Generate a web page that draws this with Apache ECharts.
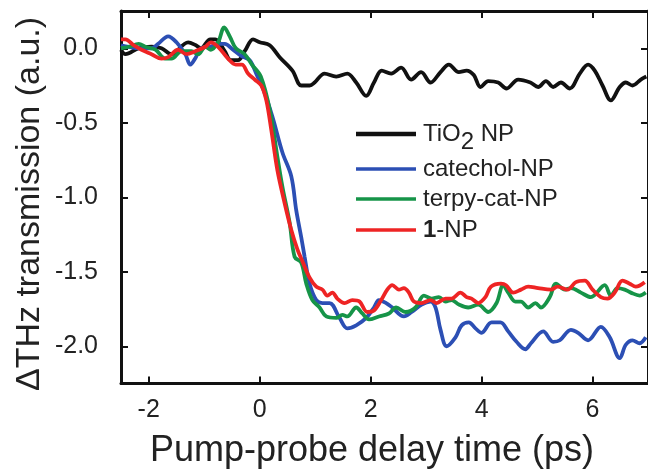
<!DOCTYPE html>
<html>
<head>
<meta charset="utf-8">
<script src="https://cdn.jsdelivr.net/npm/echarts@6/dist/echarts.min.js"></script>
<style>html,body{margin:0;padding:0;background:#fff}#c{width:648px;height:472px}</style>
</head>
<body>
<div id="c"></div>
<script>
var seriesNames = ['TiO2 NP', 'catechol-NP', 'terpy-cat-NP', '1-NP'];
var xTicks = [-2, 0, 2, 4, 6];
var yTicks = [0, -0.5, -1.0, -1.5, -2.0];

var tio2X = [-2.5,-2.42,-2.18,-1.95,-1.77,-1.59,-1.29,-1.15,-1.06,-0.89,-0.80,-0.63,-0.52,-0.39,-0.27,-0.12,0.0,0.18,0.36,0.59,0.75,0.90,0.99,1.17,1.38,1.58,1.74,1.92,2.06,2.20,2.37,2.55,2.73,2.91,3.08,3.26,3.41,3.59,3.73,3.86,3.98,4.12,4.30,4.45,4.66,4.88,5.02,5.16,5.29,5.43,5.59,5.77,5.92,6.04,6.18,6.33,6.49,6.60,6.72,6.87,6.97];
var tio2Y = [-0.01,-0.04,0.00,0.01,0.00,-0.04,0.04,0.02,0.00,0.06,0.06,-0.02,-0.08,-0.08,-0.02,0.06,0.04,0.02,-0.06,-0.15,-0.25,-0.25,-0.23,-0.17,-0.19,-0.17,-0.23,-0.32,-0.23,-0.15,-0.17,-0.13,-0.21,-0.16,-0.23,-0.16,-0.11,-0.16,-0.15,-0.18,-0.26,-0.22,-0.23,-0.27,-0.21,-0.23,-0.26,-0.22,-0.26,-0.23,-0.27,-0.17,-0.11,-0.15,-0.25,-0.35,-0.26,-0.23,-0.25,-0.21,-0.19];

var catX = [-2.5,-2.36,-2.18,-1.95,-1.83,-1.65,-1.50,-1.34,-1.25,-1.15,-1.06,-0.89,-0.75,-0.63,-0.48,-0.34,-0.18,-0.05,0.06,0.23,0.41,0.57,0.66,0.75,0.81,0.90,1.02,1.13,1.26,1.44,1.58,1.74,1.92,2.06,2.15,2.28,2.39,2.60,2.74,2.92,3.08,3.17,3.26,3.37,3.53,3.64,3.77,3.89,4.00,4.18,4.34,4.48,4.63,4.79,4.89,5.11,5.29,5.41,5.61,5.74,5.92,6.15,6.31,6.49,6.60,6.72,6.85,6.96];
var catY = [0.02,0.01,0.00,0.00,0.03,0.08,0.04,-0.04,-0.11,-0.06,0.00,0.01,0.03,0.03,-0.01,-0.05,-0.08,-0.18,-0.27,-0.46,-0.70,-0.86,-1.09,-1.27,-1.40,-1.58,-1.69,-1.71,-1.71,-1.81,-1.88,-1.86,-1.81,-1.74,-1.69,-1.71,-1.74,-1.80,-1.77,-1.72,-1.70,-1.74,-1.89,-2.00,-1.94,-1.86,-1.84,-1.88,-1.91,-1.84,-1.84,-1.90,-1.97,-2.02,-1.98,-1.90,-1.97,-1.96,-1.89,-1.91,-1.96,-1.87,-1.94,-2.08,-1.99,-1.96,-1.98,-1.94];

var terpyX = [-2.5,-2.36,-2.18,-2.06,-1.88,-1.70,-1.59,-1.41,-1.23,-1.11,-0.98,-0.88,-0.75,-0.64,-0.54,-0.43,-0.27,-0.14,0.02,0.18,0.32,0.41,0.54,0.63,0.75,0.84,0.95,1.08,1.20,1.38,1.49,1.58,1.74,1.85,1.97,2.15,2.33,2.46,2.63,2.81,2.96,3.10,3.23,3.35,3.46,3.59,3.76,3.94,4.12,4.27,4.39,4.48,4.61,4.71,4.84,4.97,5.07,5.23,5.34,5.50,5.61,5.79,5.97,6.22,6.33,6.45,6.58,6.69,6.85,6.96];
var terpyY = [0.00,0.01,0.03,0.01,-0.01,-0.07,-0.07,-0.02,-0.02,-0.04,0.01,-0.01,0.04,0.14,0.08,0.00,-0.04,-0.11,-0.19,-0.41,-0.73,-0.93,-1.17,-1.40,-1.44,-1.58,-1.69,-1.74,-1.80,-1.81,-1.79,-1.80,-1.74,-1.78,-1.82,-1.80,-1.78,-1.74,-1.77,-1.74,-1.66,-1.68,-1.67,-1.70,-1.69,-1.72,-1.74,-1.72,-1.77,-1.71,-1.59,-1.64,-1.70,-1.70,-1.74,-1.71,-1.74,-1.67,-1.58,-1.62,-1.61,-1.64,-1.67,-1.59,-1.66,-1.61,-1.62,-1.64,-1.66,-1.64];

var oneX = [-2.5,-2.42,-2.27,-2.13,-1.95,-1.77,-1.65,-1.47,-1.32,-1.16,-0.98,-0.88,-0.75,-0.57,-0.43,-0.32,-0.21,-0.09,0.03,0.12,0.21,0.32,0.45,0.57,0.68,0.77,0.90,1.02,1.13,1.22,1.31,1.40,1.53,1.67,1.80,1.94,2.06,2.19,2.30,2.39,2.51,2.60,2.69,2.78,2.92,3.08,3.19,3.35,3.46,3.62,3.73,3.82,3.94,4.07,4.17,4.35,4.44,4.57,4.71,4.84,5.02,5.25,5.37,5.55,5.70,5.86,6.00,6.15,6.27,6.40,6.54,6.67,6.78,6.94];
var oneY = [0.06,0.06,0.02,-0.01,-0.04,-0.07,-0.06,-0.01,-0.04,-0.02,0.01,0.04,0.01,-0.07,-0.11,-0.11,-0.17,-0.21,-0.25,-0.35,-0.55,-0.82,-1.04,-1.22,-1.35,-1.43,-1.54,-1.60,-1.62,-1.66,-1.64,-1.68,-1.71,-1.69,-1.70,-1.77,-1.76,-1.69,-1.62,-1.59,-1.62,-1.61,-1.64,-1.70,-1.71,-1.69,-1.71,-1.68,-1.68,-1.64,-1.67,-1.68,-1.71,-1.67,-1.60,-1.58,-1.59,-1.64,-1.62,-1.60,-1.61,-1.62,-1.60,-1.62,-1.57,-1.56,-1.62,-1.67,-1.68,-1.64,-1.56,-1.58,-1.60,-1.57];

var colors = ['#111111', '#2c4fb4', '#169448', '#ee2424'];

function pairs(xs, ys) { return xs.map(function (x, i) { return [x, ys[i]]; }); }

var font = 'Liberation Sans, Arial, Helvetica, sans-serif';
var chart = echarts.init(document.getElementById('c'), null, { renderer: 'canvas' });

function mkSeries(name, xs, ys, color, z) {
  return {
    name: name, type: 'line', data: pairs(xs, ys), showSymbol: false, smooth: 0.35,
    lineStyle: { color: color, width: 3.8 }, itemStyle: { color: color }, z: z, animation: false
  };
}

function axisLine() { return { show: true, onZero: false, lineStyle: { color: '#111', width: 3 } }; }
function tick(vals) { return { show: true, inside: true, length: 7, lineStyle: { width: 2, color: '#111' }, customValues: vals }; }

function legendFormatter(name) {
  if (name === 'TiO2 NP') return '{n|TiO}{s|2}{n| NP}';
  if (name === '1-NP') return '{b|1}{n|-NP}';
  return '{n|' + name + '}';
}
function mkLegend(name, top, tall) {
  return {
    orient: 'vertical', left: 351, top: top, itemWidth: 60, itemHeight: tall ? 4.5 : 3.5,
    icon: 'rect', selectedMode: false, data: [name], formatter: legendFormatter,
    textStyle: { fontSize: 24, fontFamily: font, color: '#222', padding: [0, 0, 0, 2],
      rich: {
        n: { fontSize: 24, fontFamily: font, color: '#222', lineHeight: tall ? 40 : 26 },
        s: { fontSize: 24, fontFamily: font, color: '#222', lineHeight: 24, padding: [16, 0, 0, 0], verticalAlign: 'bottom' },
        b: { fontSize: 24, fontFamily: font, color: '#222', fontWeight: 'bold', lineHeight: 26 }
      } }
  };
}

var option = {
  animation: false,
  backgroundColor: '#fff',
  grid: { left: 121, top: 11, right: -2, bottom: 88.5, containLabel: false },
  xAxis: [
    { type: 'value', min: -2.5, max: 7, position: 'bottom', axisLine: axisLine(), axisTick: tick(xTicks),
      axisLabel: { show: true, customValues: xTicks, fontSize: 25, fontFamily: font, color: '#222', margin: 14 },
      splitLine: { show: false } },
    { type: 'value', min: -2.5, max: 7, position: 'top', axisLine: axisLine(), axisTick: tick(xTicks),
      axisLabel: { show: false }, splitLine: { show: false } }
  ],
  yAxis: [
    { type: 'value', min: -2.25, max: 0.25, position: 'left', axisLine: axisLine(), axisTick: tick(yTicks),
      axisLabel: { show: true, customValues: yTicks, fontSize: 25, fontFamily: font, color: '#222', margin: 23,
        formatter: function (v) { return v.toFixed(1); } },
      splitLine: { show: false } },
    { type: 'value', min: -2.25, max: 0.25, position: 'right', axisLine: axisLine(), axisTick: tick(yTicks),
      axisLabel: { show: false }, splitLine: { show: false } }
  ],
  legend: [
    mkLegend(seriesNames[0], 109, true),
    mkLegend(seriesNames[1], 152, false),
    mkLegend(seriesNames[2], 182, false),
    mkLegend(seriesNames[3], 213, false)
  ],
  graphic: [
    { type: 'text', x: 372, y: 451, z: 100,
      style: { text: 'Pump-probe delay time (ps)', font: '36px ' + font, fill: '#222', align: 'center', verticalAlign: 'middle' } },
    { type: 'text', x: 30, y: 204, rotation: Math.PI / 2, z: 100,
      style: { text: 'ΔTHz transmission (a.u.)', font: '34px ' + font, fill: '#222', align: 'center', verticalAlign: 'middle' } }
  ],
  series: [
    mkSeries(seriesNames[0], tio2X, tio2Y, colors[0], 2),
    mkSeries(seriesNames[1], catX, catY, colors[1], 3),
    mkSeries(seriesNames[2], terpyX, terpyY, colors[2], 4),
    mkSeries(seriesNames[3], oneX, oneY, colors[3], 5)
  ]
};
chart.setOption(option);
</script>
</body>
</html>
